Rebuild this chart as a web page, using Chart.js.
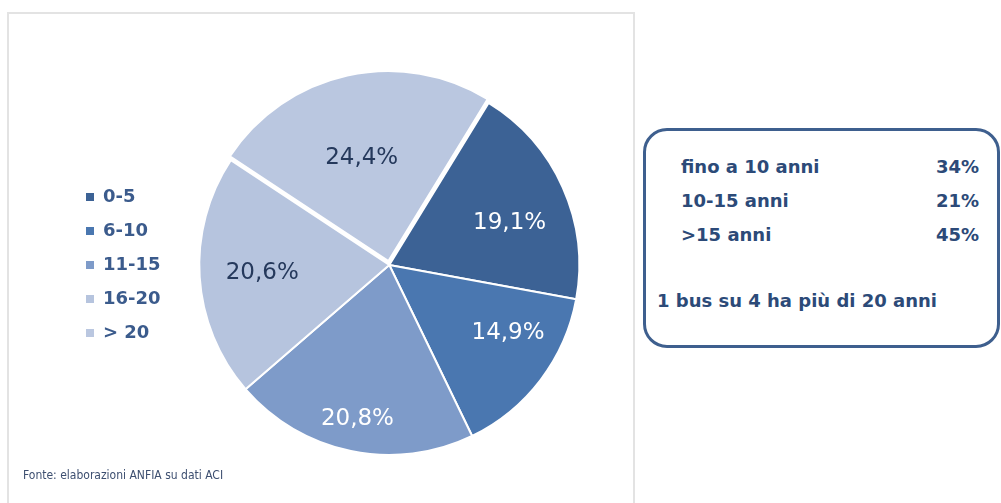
<!DOCTYPE html>
<html lang="it">
<head>
<meta charset="utf-8">
<title>Parco autobus per età</title>
<script src="https://cdn.jsdelivr.net/npm/chart.js@4/dist/chart.umd.min.js"></script>
<style>
  html, body { margin: 0; padding: 0; background: #fff; }
  body { width: 1001px; height: 503px; position: relative; overflow: hidden; font-family: 'DejaVu Sans', sans-serif; }
  .pannello { position: absolute; left: 7px; top: 12px; width: 624px; height: 500px; border: 2px solid #e3e3e3; border-bottom: none; }
  #grafico { position: absolute; left: 0; top: 0; }
  .fonte { position: absolute; left: 23px; top: 468px; font: 12px 'DejaVu Sans Condensed', 'DejaVu Sans', sans-serif; color: #3d4f70; }
  .riquadro { position: absolute; left: 643px; top: 128px; width: 351px; height: 214px; border: 3px solid #3e5f8e; border-radius: 24px; color: #2c4a78; font-weight: bold; font-size: 18px; }
  .riga { position: absolute; left: 35px; width: 298px; height: 22px; line-height: 22px; }
  .riga span:last-child { position: absolute; right: 0; }
  .nota { position: absolute; left: 11px; top: 159px; line-height: 22px; }
</style>
</head>
<body>
<div class="pannello"></div>
<canvas id="grafico" width="640" height="503"></canvas>
<div class="fonte">Fonte: elaborazioni ANFIA su dati ACI</div>
<div class="riquadro" id="riquadro">
  <div class="nota">1 bus su 4 ha più di 20 anni</div>
</div>
<script>
// fasce di età del parco autobus e quota percentuale
const fasce = ['0-5', '6-10', '11-15', '16-20', '> 20'];
const quote = [19.1, 14.9, 20.8, 20.6, 24.4];

// riepilogo nel riquadro a destra
const riepilogoVoci = ['fino a 10 anni', '10-15 anni', '>15 anni'];
const riepilogoQuote = ['34%', '21%', '45%'];

const colori = ['#3c6295', '#4a77b0', '#7e9bc9', '#b6c4de', '#bac7e0'];
const coloriEtichette = ['#ffffff', '#ffffff', '#ffffff', '#25395c', '#25395c'];
// posizione delle etichette: frazione del raggio e scarto dall'angolo medio (gradi)
const distanzaEtichette = [0.67, 0.72, 0.83, 0.67, 0.58];
const scartoEtichette = [5, -7.5, 0, 0, -2];

const riquadro = document.getElementById('riquadro');
riepilogoVoci.forEach((voce, i) => {
    const riga = document.createElement('div');
    riga.className = 'riga';
    riga.style.top = (25 + i * 34) + 'px';
    riga.innerHTML = '<span>' + voce + '</span><span>' + riepilogoQuote[i] + '</span>';
    riquadro.appendChild(riga);
});

const etichettePercentuali = {
    id: 'etichettePercentuali',
    afterDatasetsDraw(chart) {
        const ctx = chart.ctx;
        const meta = chart.getDatasetMeta(0);
        ctx.save();
        ctx.font = '23px "DejaVu Sans"';
        ctx.textAlign = 'center';
        ctx.textBaseline = 'middle';
        meta.data.forEach((arc, i) => {
            const p = arc.getProps(['x', 'y', 'startAngle', 'endAngle', 'outerRadius']);
            const medio = (p.startAngle + p.endAngle) / 2 + scartoEtichette[i] * Math.PI / 180;
            const r = p.outerRadius * distanzaEtichette[i];
            ctx.fillStyle = coloriEtichette[i];
            ctx.fillText(quote[i].toFixed(1).replace('.', ',') + '%', p.x + Math.cos(medio) * r, p.y + Math.sin(medio) * r);
        });
        ctx.restore();
    }
};

Chart.defaults.font.family = '"DejaVu Sans", sans-serif';

const grafico = new Chart(document.getElementById('grafico'), {
    type: 'pie',
    data: {
        labels: fasce,
        datasets: [{
            data: quote,
            backgroundColor: colori,
            borderColor: '#ffffff',
            borderWidth: 2,
            offset: [0, 0, 0, 0, 16]
        }]
    },
    options: {
        responsive: false,
        animation: false,
        rotation: 31.5,
        layout: {
            padding: { left: 70, right: 32, top: 66, bottom: 39 }
        },
        plugins: {
            tooltip: { enabled: false },
            legend: {
                position: 'left',
                labels: {
                    boxWidth: 8,
                    boxHeight: 8,
                    padding: 16,
                    color: '#3b5b8c',
                    font: { size: 18, weight: 'bold' },
                    generateLabels(chart) {
                        const items = Chart.overrides.pie.plugins.legend.labels.generateLabels(chart);
                        items.forEach(it => { it.lineWidth = 0; it.strokeStyle = it.fillStyle; });
                        return items;
                    }
                }
            }
        }
    },
    plugins: [etichettePercentuali]
});
</script>
</body>
</html>
